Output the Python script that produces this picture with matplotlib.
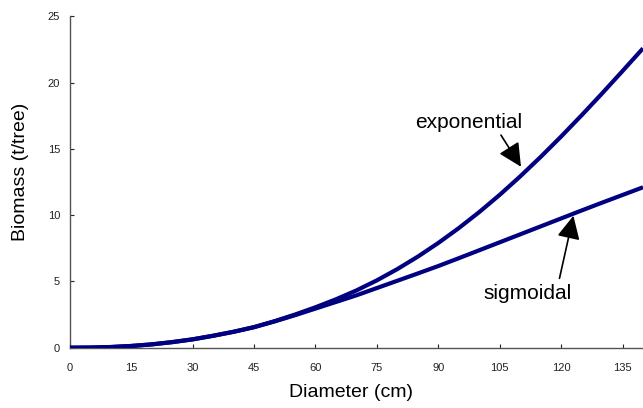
import matplotlib
matplotlib.use("Agg")
import matplotlib.pyplot as plt

diameter = [0, 5, 10, 15, 20, 25, 30, 35, 40, 45, 50, 55, 60, 65, 70, 75, 80, 85, 90,
            95, 100, 105, 110, 115, 120, 125, 130, 135, 140]
exponential = [0, 0.01, 0.05, 0.13, 0.25, 0.42, 0.63, 0.9, 1.2, 1.55, 2.0, 2.5, 3.05,
               3.65, 4.32, 5.08, 5.93, 6.87, 7.9, 9.02, 10.23, 11.53, 12.92, 14.39,
               15.93, 17.53, 19.18, 20.87, 22.58]
sigmoidal = [0, 0.01, 0.05, 0.13, 0.25, 0.42, 0.63, 0.9, 1.2, 1.55, 1.98, 2.45, 2.95,
             3.45, 3.95, 4.5, 5.05, 5.6, 6.16, 6.75, 7.35, 7.95, 8.55, 9.15, 9.75,
             10.35, 10.94, 11.52, 12.1]
x_ticks = [0, 15, 30, 45, 60, 75, 90, 105, 120, 135]
y_ticks = [0, 5, 10, 15, 20, 25]

plt.rcParams['font.family'] = ['Liberation Sans', 'DejaVu Sans']

fig = plt.figure(figsize=(6.43, 4.08), dpi=100)
ax = fig.add_axes([0.1086, 0.1478, 0.8914, 0.8123])

line_color = '#000080'
ax.plot(diameter, exponential, color=line_color, lw=3.0, solid_capstyle='butt', zorder=3)
ax.plot(diameter, sigmoidal, color=line_color, lw=3.0, solid_capstyle='butt', zorder=3)

ax.set_xlim(0, 140)
ax.set_ylim(0, 25)
ax.set_xticks(x_ticks)
ax.set_yticks(y_ticks)
ax.tick_params(direction='in', length=3, width=0.8, labelsize=8, colors='#222222')
ax.tick_params(axis='x', pad=11)
ax.tick_params(axis='y', pad=7)
for s in ['top', 'right']:
    ax.spines[s].set_visible(False)
for s in ['left', 'bottom']:
    ax.spines[s].set_color('#555555')
    ax.spines[s].set_linewidth(1.0)

ax.set_xlabel('Diameter (cm)', fontsize=14)
ax.set_ylabel('Biomass (t/tree)', fontsize=14)
ax.xaxis.set_label_coords(0.4906, -0.11)
ax.yaxis.set_label_coords(-0.072, 0.53)

arrow_style = '-|>,head_length=0.95,head_width=0.47'
arrow_props = dict(arrowstyle=arrow_style, color='black', lw=1.2,
                   mutation_scale=15, shrinkA=0, shrinkB=0)

ax.text(97.5, 17.0, 'exponential', fontsize=15, ha='center', va='center')
ax.annotate('', xy=(110.2, 13.65), xytext=(105.3, 16.04), arrowprops=arrow_props)

ax.text(111.8, 4.1, 'sigmoidal', fontsize=15, ha='center', va='center')
ax.annotate('', xy=(123.0, 9.95), xytext=(119.6, 5.23), arrowprops=arrow_props)

fig.savefig('out.png', dpi=100)
